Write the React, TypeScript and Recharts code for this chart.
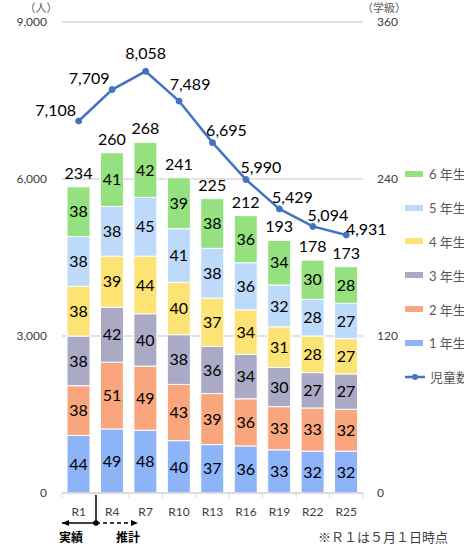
import React from 'react'
import {
  ComposedChart, Bar, Line, XAxis, YAxis, CartesianGrid, LabelList,
} from 'recharts'

// 年度
const categories = ['R1', 'R4', 'R7', 'R10', 'R13', 'R16', 'R19', 'R22', 'R25']
// 学級数（学年別）
const grade1 = [44, 49, 48, 40, 37, 36, 33, 32, 32]
const grade2 = [38, 51, 49, 43, 39, 36, 33, 33, 32]
const grade3 = [38, 42, 40, 38, 36, 34, 30, 27, 27]
const grade4 = [38, 39, 44, 40, 37, 34, 31, 28, 27]
const grade5 = [38, 38, 45, 41, 38, 36, 32, 28, 27]
const grade6 = [38, 41, 42, 39, 38, 36, 34, 30, 28]
// 児童数
const pupils = [7108, 7709, 8058, 7489, 6695, 5990, 5429, 5094, 4931]

const leftTicks = [0, 3000, 6000, 9000]
const rightTicks = [0, 120, 240, 360]

const grades = [
  { key: 'g1', name: '1 年生', color: '#8DB4F8', values: grade1 },
  { key: 'g2', name: '2 年生', color: '#F9A67E', values: grade2 },
  { key: 'g3', name: '3 年生', color: '#ABAAC6', values: grade3 },
  { key: 'g4', name: '4 年生', color: '#FDE274', values: grade4 },
  { key: 'g5', name: '5 年生', color: '#BDDAFA', values: grade5 },
  { key: 'g6', name: '6 年生', color: '#95E07F', values: grade6 },
]

const data = categories.map((name, i) => {
  const row: Record<string, string | number> = { name, pupils: pupils[i] }
  let total = 0
  grades.forEach(g => { row[g.key] = g.values[i]; total += g.values[i] })
  row.total = total
  return row
})

const FONT = 'Lato, "Noto Sans CJK JP", sans-serif'
const LINE = '#4472C4'
const W = 464
const H = 548
const PLOT_L = 62
const PLOT_R = 363
const HALF_BAND = (PLOT_R - PLOT_L) / categories.length / 2

// label shift for the pupil line, per point
const lineLabelShift = [
  [-23, -9], [-23, -10], [0, -16], [11, -15], [14, -11], [15, -11], [13, -10], [15, -9], [20, -4],
]

const XTick = (props: any) => {
  const { x, y, payload, index } = props
  return (
    <g>
      <line x1={x - HALF_BAND} x2={x - HALF_BAND} y1={y} y2={y + 5} stroke="#d9d9d9" />
      {index === categories.length - 1 && (
        <line x1={x + HALF_BAND} x2={x + HALF_BAND} y1={y} y2={y + 5} stroke="#d9d9d9" />
      )}
      <text x={x} y={y + 23} textAnchor="middle" fontSize={12} fill="#404040" fontFamily={FONT}>
        {payload.value}
      </text>
    </g>
  )
}

const TotalLabel = (props: any) => {
  const { x, y, width, index } = props
  return (
    <text x={x + width / 2} y={y - 8} textAnchor="middle" fontSize={16} fill="#000" fontFamily={FONT}>
      {data[index].total}
    </text>
  )
}

const PupilLabel = (props: any) => {
  const { x, y, value, index } = props
  const [dx, dy] = lineLabelShift[index]
  return (
    <text x={x + dx} y={y + dy} textAnchor="middle" dominantBaseline="middle" fontSize={16} fill="#000" fontFamily={FONT}>
      {Number(value).toLocaleString('en-US')}
    </text>
  )
}

const LegendBox = () => {
  const items = [...grades].reverse()
  return (
    <div style={{ position: 'absolute', left: 405, top: 157, fontFamily: FONT, fontSize: 13, color: '#595959' }}>
      {items.map(g => (
        <div key={g.key} style={{ height: 33.8, display: 'flex', alignItems: 'center', whiteSpace: 'nowrap' }}>
          <span style={{ width: 18, height: 6, background: g.color, display: 'inline-block', marginRight: 6 }} />
          {g.name}
        </div>
      ))}
      <div style={{ height: 33.8, display: 'flex', alignItems: 'center', whiteSpace: 'nowrap' }}>
        <svg width={22} height={8} style={{ marginRight: 3 }}>
          <line x1={0} x2={20} y1={4} y2={4} stroke={LINE} strokeWidth={2.5} />
          <circle cx={10} cy={4} r={3} fill={LINE} />
        </svg>
        児童数
      </div>
    </div>
  )
}

export default function App() {
  return (
    <div style={{ position: 'absolute', left: 0, top: 0, width: W, height: H, overflow: 'hidden', background: '#fff' }}>
      <ComposedChart width={W} height={H} data={data} margin={{ top: 22, right: 61, bottom: 25, left: 0 }}>
        <CartesianGrid yAxisId="left" vertical={false} stroke="#d9d9d9" strokeWidth={1.5} />
        <XAxis
          dataKey="name"
          height={30}
          axisLine={{ stroke: '#d9d9d9', strokeWidth: 1.5 }}
          tickLine={false}
          tickSize={0}
          tickMargin={0}
          tick={<XTick />}
          interval={0}
        />
        <YAxis
          yAxisId="left"
          width={62}
          domain={[0, 9000]}
          ticks={leftTicks}
          axisLine={false}
          tickLine={false}
          tickSize={0}
          tickMargin={15}
          tickFormatter={(v: number) => v.toLocaleString('en-US')}
          tick={{ fontSize: 12, fill: '#404040', fontFamily: FONT }}
        />
        <YAxis
          yAxisId="right"
          orientation="right"
          width={40}
          domain={[0, 360]}
          ticks={rightTicks}
          axisLine={false}
          tickLine={false}
          tickSize={0}
          tickMargin={14}
          tick={{ fontSize: 12, fill: '#404040', fontFamily: FONT }}
        />
        {grades.map((g, gi) => (
          <Bar
            key={g.key}
            yAxisId="right"
            dataKey={g.key}
            name={g.name}
            stackId="a"
            fill={g.color}
            stroke="#fff"
            strokeWidth={1}
            barSize={23}
            isAnimationActive={false}
          >
            <LabelList dataKey={g.key} position="center" fontSize={16} fill="#000" fontFamily={FONT} />
            {gi === grades.length - 1 && <LabelList dataKey="total" content={<TotalLabel />} />}
          </Bar>
        ))}
        <Line
          yAxisId="left"
          dataKey="pupils"
          name="児童数"
          stroke={LINE}
          strokeWidth={2.5}
          dot={{ r: 3, fill: LINE, stroke: LINE, strokeWidth: 1 }}
          activeDot={false}
          isAnimationActive={false}
        >
          <LabelList dataKey="pupils" content={<PupilLabel />} />
        </Line>
      </ComposedChart>

      <LegendBox />

      <svg width={W} height={H} style={{ position: 'absolute', left: 0, top: 0, pointerEvents: 'none' }}>
        <defs>
          <marker id="arrHead" markerWidth="8" markerHeight="8" refX="7" refY="4" orient="auto" markerUnits="userSpaceOnUse">
            <path d="M0,1 L7,4 L0,7 Z" fill="#000" />
          </marker>
        </defs>
        <text x={41} y={12} textAnchor="middle" fontSize={11} fill="#595959" fontFamily={FONT}>（人）</text>
        <text x={384} y={12} textAnchor="middle" fontSize={11} fill="#595959" fontFamily={FONT}>（学級）</text>

        <line x1={96} x2={96} y1={495} y2={523} stroke="#000" strokeWidth={1.5} />
        <line x1={96} x2={62} y1={523} y2={523} stroke="#000" strokeWidth={1.5} markerEnd="url(#arrHead)" />
        <line x1={96} x2={138} y1={523} y2={523} stroke="#000" strokeWidth={1.5} strokeDasharray="4 3" markerEnd="url(#arrHead)" />
        <circle cx={96} cy={523} r={2.8} fill="#000" />
        <text x={71} y={542} textAnchor="middle" fontSize={12} fontWeight="bold" fill="#000" fontFamily={FONT}>実績</text>
        <text x={128} y={542} textAnchor="middle" fontSize={12} fontWeight="bold" fill="#000" fontFamily={FONT}>推計</text>
        <text x={448} y={542} textAnchor="end" fontSize={13} fill="#404040" fontFamily={FONT}>※Ｒ１は５月１日時点</text>
      </svg>
    </div>
  )
}
